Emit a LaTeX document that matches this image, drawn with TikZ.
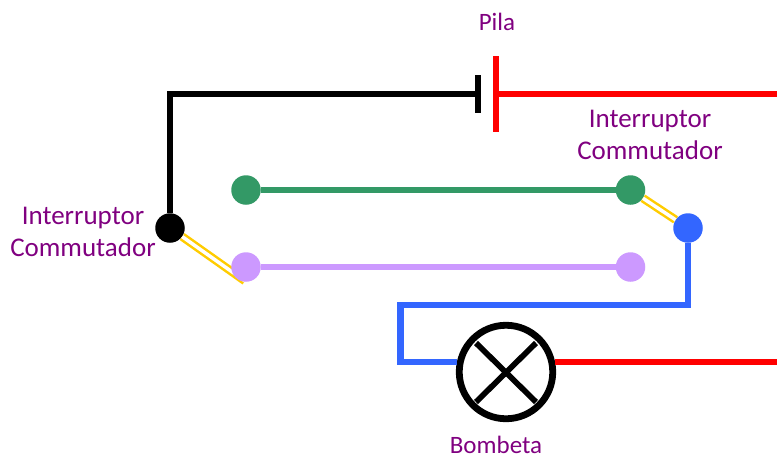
\documentclass[tikz,border=0pt]{standalone}
\usepackage{fontspec}
\setmainfont{Carlito}
\usepackage{xcolor}
\usepackage{tikz}
\definecolor{lblpurple}{RGB}{128, 0, 128}
\definecolor{wirered}{RGB}{255, 0, 0}
\definecolor{wiregreen}{RGB}{51, 153, 102}
\definecolor{wirelilac}{RGB}{204, 153, 255}
\definecolor{wireblue}{RGB}{51, 102, 255}
\definecolor{switchyellow}{RGB}{255, 204, 0}
\tikzset{
  wire/.style={line width=6.5pt},
  dot/.style={circle, fill=#1, draw=none, minimum size=29.5pt, inner sep=0pt},
  plate/.style={rectangle, fill=#1, draw=none, minimum width=6.5pt, inner sep=0pt},
  blade/.style={draw=switchyellow, line width=2.5pt, double=white, double distance=3.5pt},
  lbl/.style={text=lblpurple, align=center, inner sep=0pt, font=\fontsize{27}{32}\selectfont},
  lblsmall/.style={lbl, font=\fontsize{25}{30}\selectfont}
}

\begin{document}
\begin{tikzpicture}[x=1pt, y=-1pt]
\useasboundingbox (0,0) rectangle (777,459);

% Pila
\node[plate=black, minimum height=38pt] (negplate) at (478,94) {};
\node[plate=wirered, minimum height=76pt] (posplate) at (496,94) {};
\coordinate (redtop) at (777,94);
\node[lblsmall] (pilalbl) at (497,22) {Pila};

% Left switch
\node[dot=black] (blackdot) at (170,228) {};
\coordinate (bladeend) at (245,281);
\draw[blade] (blackdot) -- (bladeend);

% Contacts
\node[dot=wiregreen] (greenleft) at (246,190) {};
\node[dot=wiregreen] (greenright) at (630.5,190) {};
\node[dot=wirelilac] (lilacleft) at (246,267) {};
\node[dot=wirelilac] (lilacright) at (630.5,267) {};

% Right switch
\node[dot=wireblue] (bluedot) at (688,228) {};
\draw[blade] (greenright) -- (bluedot);

% Bombeta
\node[circle, draw=black, line width=6.8pt, minimum size=93.5pt, inner sep=0pt] (lamp) at (506,372) {};
\coordinate (xa) at (476,343);
\coordinate (xb) at (536,402);
\coordinate (xc) at (536,343);
\coordinate (xd) at (476,402);
\draw[line width=5.7pt] (xa) -- (xb);
\draw[line width=5.7pt] (xc) -- (xd);
\node[lblsmall] (lamplbl) at (496,445) {Bombeta};

% Wires
\draw[wire] (blackdot) |- (negplate);
\draw[wire, wirered] (posplate) -- (redtop);
\draw[wire, wiregreen] (greenleft) -- (greenright);
\draw[wire, wirelilac] (lilacleft) -- (lilacright);
\coordinate (bluea) at (688,305);
\coordinate (blueb) at (400.5,305);
\coordinate (bluec) at (400.5,362);
\coordinate (lampin) at (457,362);
\coordinate (lampout) at (555,362);
\draw[wire, wireblue] (bluedot) -- (bluea) -- (blueb) -- (bluec) -- (lampin);
\coordinate (redbot) at (777,362);
\draw[wire, wirered] (lampout) -- (redbot);

% Labels
\node[lbl] (leftlbl) at (83,232) {Interruptor\\Commutador};
\node[lbl] (rightlbl) at (650,135) {Interruptor\\Commutador};
\end{tikzpicture}
\end{document}
